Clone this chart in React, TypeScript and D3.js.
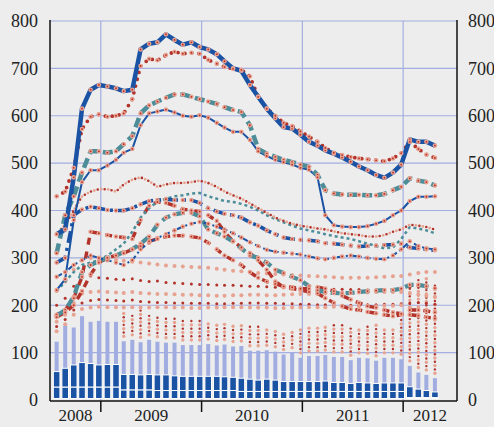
import { useEffect, useRef } from 'react';
import * as d3 from 'd3';

// monthly observations, one per month from Jul 2008 to Apr 2012 (46 months)
const firstYear = 2008;
const firstMonthIndex = 6;
const monthCount = 46;
const yearLabels = ['2008', '2009', '2010', '2011', '2012'];
const yTicks = [0, 100, 200, 300, 400, 500, 600, 700, 800];

// bars (stacked): bottom dark block, total dark, light top
const barBottom = [27, 27, 27, 27, 27, 27, 27, 27, 21, 21, 21, 21, 20, 20, 20, 20, 20, 20, 20, 20, 20, 20, 18, 18, 18, 18, 18, 18, 18, 18, 18, 18, 18, 18, 18, 18, 18, 18, 18, 18, 18, 18, 5, 5, 5, 5];
const barDark = [60, 67, 74, 79, 77, 74, 75, 75, 54, 54, 53, 54, 53, 53, 51, 50, 50, 50, 50, 50, 49, 48, 46, 44, 42, 44, 42, 39, 39, 39, 39, 39, 40, 37, 37, 35, 37, 36, 35, 36, 36, 36, 28, 23, 20, 17];
const barLight = [123, 157, 153, 177, 165, 167, 165, 165, 124, 127, 122, 127, 123, 121, 121, 116, 116, 116, 118, 115, 117, 113, 114, 104, 104, 105, 102, 96, 100, 89, 93, 93, 95, 91, 91, 84, 89, 88, 83, 89, 89, 86, 72, 58, 53, 46];

// lines
const thickBlue = [350, 360, 470, 615, 655, 665, 662, 658, 652, 655, 740, 752, 755, 772, 760, 750, 755, 745, 740, 730, 715, 700, 695, 665, 640, 615, 595, 576, 573, 560, 545, 537, 527, 520, 512, 503, 493, 485, 475, 469, 480, 497, 550, 545, 545, 537];
const redDotsTop = [430, 440, 490, 572, 598, 603, 598, 600, 605, 635, 705, 720, 717, 728, 735, 731, 733, 731, 718, 710, 703, 699, 697, 683, 640, 615, 600, 585, 578, 567, 556, 545, 532, 522, 517, 513, 510, 508, 506, 504, 510, 521, 545, 530, 518, 511];
const tealTop = [310, 390, 430, 480, 525, 525, 522, 525, 540, 557, 605, 622, 630, 638, 645, 645, 640, 635, 630, 625, 618, 612, 608, 580, 530, 520, 513, 507, 502, 497, 492, 475, 443, 436, 434, 433, 433, 432, 432, 435, 443, 450, 468, 463, 460, 453];
const thinBlue = [232, 255, 380, 460, 485, 485, 495, 507, 522, 530, 580, 605, 609, 613, 607, 600, 598, 601, 596, 585, 575, 566, 566, 549, 525, 515, 507, 502, 497, 490, 486, 470, 390, 369, 366, 365, 365, 367, 372, 378, 390, 400, 420, 429, 429, 430];
const blueDashDot = [290, 300, 390, 402, 408, 405, 401, 400, 400, 405, 413, 420, 422, 424, 422, 422, 422, 416, 405, 398, 393, 390, 385, 375, 368, 358, 350, 343, 340, 338, 337, 335, 331, 330, 328, 326, 324, 325, 326, 327, 328, 330, 322, 320, 318, 316];
const blueThin = [260, 270, 285, 295, 305, 300, 295, 290, 285, 295, 318, 332, 342, 350, 358, 366, 372, 376, 372, 366, 360, 352, 343, 333, 325, 317, 313, 311, 309, 307, 303, 299, 297, 300, 303, 305, 303, 300, 298, 297, 305, 318, 335, 325, 320, 318];
const redDashA = [180, 190, 215, 260, 355, 352, 348, 345, 343, 340, 380, 410, 418, 416, 410, 403, 400, 398, 390, 378, 355, 335, 322, 310, 295, 275, 250, 238, 235, 232, 228, 225, 215, 205, 198, 192, 190, 186, 183, 180, 177, 180, 190, 190, 188, 185];
const redDashB = [175, 185, 200, 230, 265, 290, 300, 305, 310, 318, 325, 335, 340, 345, 347, 347, 345, 342, 332, 318, 305, 295, 285, 270, 258, 250, 245, 240, 238, 235, 235, 238, 235, 230, 220, 212, 205, 198, 195, 190, 185, 182, 180, 178, 175, 172];
const tealLow = [178, 190, 218, 270, 285, 293, 300, 305, 312, 318, 330, 345, 370, 385, 392, 395, 395, 388, 360, 352, 345, 335, 320, 305, 300, 290, 275, 268, 260, 253, 240, 232, 228, 226, 225, 226, 228, 230, 231, 232, 232, 235, 243, 243, 240, 236];
const tealDotted = [230, 250, 270, 285, 290, 295, 305, 318, 330, 355, 385, 405, 418, 425, 430, 432, 436, 437, 430, 425, 420, 418, 414, 408, 400, 390, 382, 375, 368, 362, 358, 354, 350, 346, 343, 340, 335, 330, 325, 320, 322, 340, 365, 362, 358, 352];
const redDotsMid = [350, 370, 400, 430, 440, 445, 445, 440, 455, 465, 470, 462, 450, 455, 458, 458, 460, 463, 458, 450, 440, 432, 425, 415, 405, 395, 385, 378, 372, 368, 365, 362, 360, 356, 352, 350, 348, 345, 345, 348, 355, 360, 370, 368, 365, 360];

// scattered dot series
const dotsP1 = [230, 250, 275, 295, 300, 300, 298, 296, 294, 292, 290, 288, 286, 284, 283, 282, 281, 280, 279, 277, 275, 273, 272, 270, 268, 267, 266, 265, 264, 263, 262, 261, 260, 259, 258, 258, 258, 258, 259, 260, 261, 262, 265, 268, 270, 270];
const dotsP2 = [200, 215, 240, 258, 262, 258, 257, 255, 254, 256, 252, 250, 251, 248, 247, 246, 245, 244, 244, 243, 242, 242, 241, 240, 240, 239, 238, 238, 237, 236, 236, 235, 235, 234, 234, 233, 233, 232, 232, 233, 233, 234, 238, 240, 238, 236];
const dotsP3 = [165, 180, 205, 225, 228, 229, 228, 227, 226, 228, 226, 225, 224, 224, 223, 222, 222, 221, 221, 220, 220, 221, 221, 222, 222, 221, 221, 222, 223, 224, 224, 225, 225, 226, 226, 226, 227, 227, 228, 228, 228, 228, 225, 222, 220, 218];
const dotsP4 = [155, 170, 190, 205, 210, 212, 211, 210, 209, 211, 208, 207, 206, 206, 205, 205, 204, 204, 204, 203, 203, 204, 204, 205, 205, 204, 204, 203, 203, 202, 202, 201, 201, 201, 200, 200, 200, 201, 201, 202, 202, 203, 205, 206, 204, 202];
const dotsP5 = [145, 160, 180, 192, 195, 197, 196, 196, 195, 196, 195, 195, 196, 196, 195, 195, 194, 194, 195, 195, 196, 196, 196, 195, 195, 195, 194, 194, 195, 195, 196, 196, 196, 197, 197, 197, 198, 198, 198, 199, 199, 200, 195, 192, 190, 188];
// top of the dense dot column above each bar (0 = none)
const columnTop = [0, 0, 0, 0, 0, 0, 0, 0, 183, 183, 190, 180, 176, 176, 173, 169, 172, 169, 165, 162, 162, 158, 162, 158, 155, 152, 150, 145, 148, 152, 155, 155, 158, 158, 158, 158, 152, 155, 158, 152, 155, 175, 250, 255, 258, 245];

const App = () => {
  const ref = useRef<SVGSVGElement>(null);

  useEffect(() => {
    const svg = d3.select(ref.current);
    svg.selectAll('*').remove();

    const width = 494; const height = 427;
    const left = 50; const right = 457; const top = 21; const bottom = 400;

    const darkBlue = '#1a52a4';
    const lightBlue = '#a1ace1';
    const teal = '#4c8d99';
    const darkRed = '#b3322a';
    const salmon = '#e8a291';
    const grid = '#a4aee0';

    const months = d3.range(monthCount).map(i => new Date(firstYear, firstMonthIndex + i, 25));

    const x = d3.scaleTime()
      .domain([new Date(2008, 6, 1), new Date(2012, 6, 14)])
      .range([left, right]);
    const y = d3.scaleLinear().domain([0, 800]).range([bottom, top]);

    svg.append('rect').attr('width', width).attr('height', height).attr('fill', '#ecedec');

    // gridlines
    svg.append('g').selectAll('line')
      .data(yTicks.filter(d => d > 0))
      .enter().append('line')
      .attr('x1', left).attr('x2', right)
      .attr('y1', d => y(d)).attr('y2', d => y(d))
      .attr('stroke', grid).attr('stroke-width', 1.2);

    const yearStarts = [2009, 2010, 2011, 2012].map(yr => new Date(yr, 0, 1));
    svg.append('g').selectAll('line')
      .data(yearStarts)
      .enter().append('line')
      .attr('x1', d => x(d)).attr('x2', d => x(d))
      .attr('y1', top).attr('y2', bottom)
      .attr('stroke', grid).attr('stroke-width', 1.2);

    // bars
    const bars = svg.append('g');
    months.forEach((m, i) => {
      const cx = x(m);
      bars.append('rect')
        .attr('x', cx - 2).attr('width', 4)
        .attr('y', y(barLight[i])).attr('height', y(barDark[i]) - y(barLight[i]))
        .attr('fill', lightBlue);
      bars.append('rect')
        .attr('x', cx - 3.3).attr('width', 6.6)
        .attr('y', y(barDark[i])).attr('height', y(barBottom[i]) - y(barDark[i]))
        .attr('fill', darkBlue).attr('stroke', '#fff').attr('stroke-width', 1);
      bars.append('rect')
        .attr('x', cx - 3.3).attr('width', 6.6)
        .attr('y', y(barBottom[i])).attr('height', y(0) - y(barBottom[i]) - 1.5)
        .attr('fill', darkBlue).attr('stroke', '#fff').attr('stroke-width', 1);
    });

    // dense dot columns above the bars
    const cols = svg.append('g');
    months.forEach((m, i) => {
      if (columnTop[i] <= barLight[i]) return;
      const y0 = y(barLight[i]) - 5;
      const y1 = y(columnTop[i]);
      let k = 0;
      for (let yy = y0; yy >= y1; yy -= 3.8) {
        cols.append('circle')
          .attr('cx', x(m)).attr('cy', yy)
          .attr('r', k % 2 ? 1.2 : 1.7)
          .attr('fill', k % 2 ? darkRed : salmon);
        k++;
      }
    });

    // scattered dot series
    const scatter = [
      { data: dotsP1, color: salmon, r: 2 },
      { data: dotsP2, color: darkRed, r: 1.5 },
      { data: dotsP3, color: salmon, r: 2 },
      { data: dotsP4, color: darkRed, r: 1.5 },
      { data: dotsP5, color: salmon, r: 2 },
    ];
    scatter.forEach(s => {
      svg.append('g').selectAll('circle')
        .data(s.data)
        .enter().append('circle')
        .attr('cx', (d, i) => x(months[i]))
        .attr('cy', d => y(d))
        .attr('r', s.r)
        .attr('fill', s.color);
    });

    const line = d3.line<number>()
      .x((d, i) => x(months[i]))
      .y(d => y(d));

    const drawLine = (data: number[], color: string, w: number, dash: string | null, offset = 0) => {
      const p = svg.append('path')
        .attr('d', line(data))
        .attr('fill', 'none')
        .attr('stroke', color)
        .attr('stroke-width', w)
        .attr('stroke-linejoin', 'round')
        .attr('stroke-linecap', dash && dash.startsWith('0 ') ? 'round' : 'butt');
      if (dash) p.attr('stroke-dasharray', dash).attr('stroke-dashoffset', offset);
    };

    drawLine(redDashB, darkRed, 3.4, '7 7');
    drawLine(redDashA, darkRed, 3.4, '7 7', 4);
    drawLine(tealLow, teal, 4.2, '9 6');
    drawLine(tealDotted, teal, 2.5, '3 3');
    drawLine(blueThin, darkBlue, 2, '6 3 2 3');
    drawLine(blueDashDot, darkBlue, 3.5, '12 5 3 5');
    drawLine(redDotsMid, darkRed, 2.6, '0 7');
    drawLine(redDotsMid, salmon, 2.8, '0 7', 3.5);
    drawLine(thinBlue, darkBlue, 2, null);
    drawLine(tealTop, teal, 4.5, '10 5');
    drawLine(redDotsTop, darkRed, 3.8, '0 7');
    drawLine(thickBlue, darkBlue, 4.5, null);

    // salmon markers sitting on the lines
    [thickBlue, tealTop, thinBlue, blueDashDot, blueThin, tealLow, redDotsTop, redDashA, redDashB].forEach(data => {
      const g = svg.append('g');
      data.forEach((d, i) => {
        g.append('circle').attr('cx', x(months[i])).attr('cy', y(d)).attr('r', 2.3).attr('fill', salmon);
        g.append('circle').attr('cx', x(months[i])).attr('cy', y(d)).attr('r', 0.9).attr('fill', darkRed);
      });
    });

    // axes
    const axis = svg.append('g').attr('stroke', '#111').attr('stroke-width', 1.5);
    axis.append('line').attr('x1', left).attr('x2', left).attr('y1', top - 1).attr('y2', bottom + 1);
    axis.append('line').attr('x1', right).attr('x2', right).attr('y1', top - 1).attr('y2', bottom + 1);
    axis.append('line').attr('x1', left).attr('x2', right).attr('y1', bottom + 1).attr('y2', bottom + 1);
    yearStarts.forEach(d => {
      axis.append('line').attr('x1', x(d)).attr('x2', x(d)).attr('y1', bottom + 1).attr('y2', bottom + 12);
    });

    const font = '"Liberation Serif", "Times New Roman", Times, serif';
    svg.append('g').selectAll('text')
      .data(yTicks)
      .enter().append('text')
      .attr('x', 38).attr('y', d => y(d)).attr('dy', '0.35em')
      .attr('text-anchor', 'end')
      .attr('font-family', font).attr('font-size', 18).attr('fill', '#222')
      .text(d => d);
    svg.append('g').selectAll('text')
      .data(yTicks)
      .enter().append('text')
      .attr('x', 468).attr('y', d => y(d)).attr('dy', '0.35em')
      .attr('text-anchor', 'start')
      .attr('font-family', font).attr('font-size', 18).attr('fill', '#222')
      .text(d => d);

    svg.append('g').selectAll('text')
      .data(yearLabels)
      .enter().append('text')
      .attr('x', d => {
        const yr = +d;
        const a = Math.max(left, x(new Date(yr, 0, 1)));
        const b = Math.min(right, x(new Date(yr + 1, 0, 1)));
        return (a + b) / 2;
      })
      .attr('y', 421)
      .attr('text-anchor', 'middle')
      .attr('font-family', font).attr('font-size', 17).attr('fill', '#222')
      .text(d => d);
  }, []);

  return <svg ref={ref} width={494} height={427} style={{ position: 'absolute', left: 0, top: 0, display: 'block' }} />;
};

export default App;
